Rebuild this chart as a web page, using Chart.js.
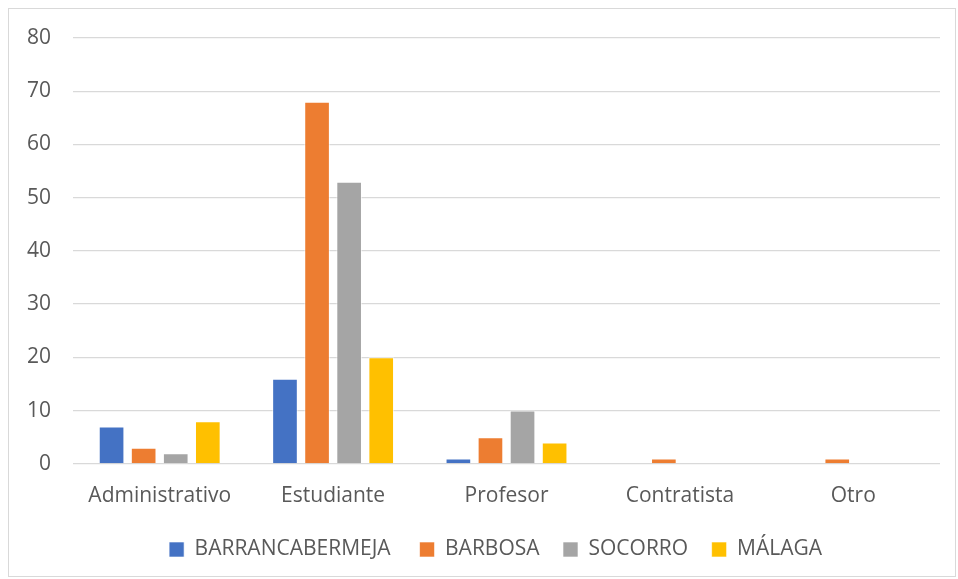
<!DOCTYPE html>
<html>
<head>
<meta charset="utf-8">
<script src="https://cdn.jsdelivr.net/npm/chart.js@4/dist/chart.umd.min.js"></script>
<style>
  body { margin: 0; background: #fff; }
  #box { position: absolute; left: 8px; top: 8px; width: 948px; height: 569px; border: 1px solid #d9d9d9; box-sizing: border-box; }
</style>
</head>
<body>
<div id="box"><canvas id="chart"></canvas></div>
<script>
var categories = ['Administrativo', 'Estudiante', 'Profesor', 'Contratista', 'Otro'];
var barranca = [7, 16, 1, 0, 0];
var barbosa = [3, 68, 5, 1, 1];
var socorro = [2, 53, 10, 0, 0];
var malaga = [8, 20, 4, 0, 0];

var font = '"Open Sans", sans-serif';
// trailing spaces only widen the legend gaps a little
var legendPad = ['  ', ' ', ' ', '    '];

function makeSet(label, values, color) {
  return {
    label: label,
    data: values,
    backgroundColor: color,
    borderColor: 'rgba(255,255,255,0.6)',
    borderWidth: 1,
    categoryPercentage: 0.74,
    barPercentage: 0.8
  };
}

new Chart(document.getElementById('chart'), {
  type: 'bar',
  data: {
    labels: categories,
    datasets: [
      makeSet('BARRANCABERMEJA', barranca, '#4472c4'),
      makeSet('BARBOSA', barbosa, '#ed7d31'),
      makeSet('SOCORRO', socorro, '#a5a5a5'),
      makeSet('MÁLAGA', malaga, '#ffc000')
    ]
  },
  options: {
    responsive: true,
    maintainAspectRatio: false,
    animation: false,
    layout: { padding: { top: 29, right: 15, left: 0, bottom: 6 } },
    plugins: {
      tooltip: { enabled: false },
      legend: {
        position: 'bottom',
        fullSize: false,
        labels: {
          color: '#595959',
          font: { family: font, size: 21 },
          boxWidth: 15,
          boxHeight: 15,
          padding: 18,
          generateLabels: function(chart) {
            var items = Chart.defaults.plugins.legend.labels.generateLabels(chart);
            items.forEach(function(it, i) {
              it.text = it.text + legendPad[i];
            });
            return items;
          }
        }
      }
    },
    scales: {
      x: {
        grid: { display: false },
        border: { display: false },
        ticks: { color: '#595959', font: { family: font, size: 21 }, padding: 12 }
      },
      y: {
        min: 0,
        max: 80,
        afterFit: function(axis) { axis.width = 64; },
        ticks: { stepSize: 10, color: '#595959', font: { family: font, size: 21, lineHeight: 0.4 }, padding: 22 },
        grid: { color: '#d9d9d9', lineWidth: 1.3, drawTicks: false },
        border: { display: false }
      }
    }
  }
});
</script>
</body>
</html>
